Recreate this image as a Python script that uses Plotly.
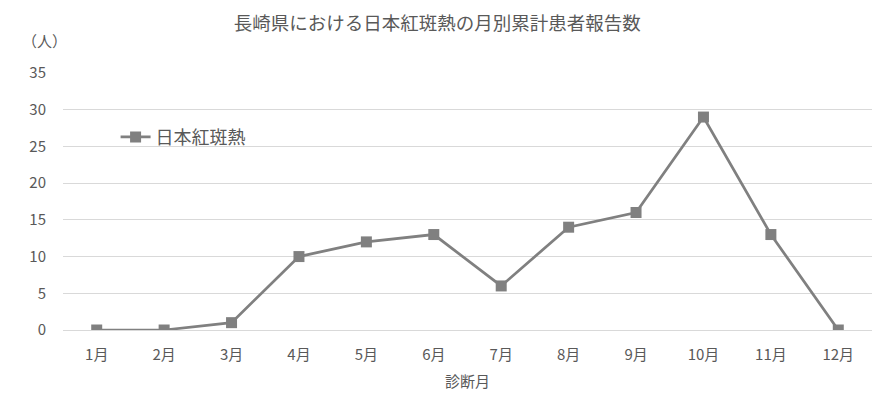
import plotly.graph_objects as go

months = ["1月", "2月", "3月", "4月", "5月", "6月", "7月", "8月", "9月", "10月", "11月", "12月"]
cases = [0, 0, 1, 10, 12, 13, 6, 14, 16, 29, 13, 0]
series_name = "日本紅斑熱"
y_ticks = [0, 5, 10, 15, 20, 25, 30, 35]

FONT = "Noto Sans CJK JP"
TXT = "#595959"

fig = go.Figure()
fig.add_trace(go.Scatter(
    x=months, y=cases, name=series_name, mode="lines+markers",
    line=dict(color="#808080", width=2.75),
    marker=dict(symbol="square", size=11, color="#808080"),
))

fig.update_layout(
    width=885, height=391,
    margin=dict(l=55, r=21, t=65, b=69, autoexpand=False),
    paper_bgcolor="white", plot_bgcolor="white",
    font=dict(family=FONT, size=15, color=TXT),
    title=dict(text="長崎県における日本紅斑熱の月別累計患者報告数", x=0.485, xanchor="center",
               y=1 - 16 / 391, yanchor="middle", font=dict(size=18.5, color=TXT, family=FONT)),
    showlegend=True,
    legend=dict(x=0.065, y=0.75, xanchor="left", yanchor="middle",
                bgcolor="rgba(0,0,0,0)", font=dict(size=18, color=TXT, family=FONT)),
    xaxis=dict(type="category", range=[-0.5, 11.5], showgrid=False, showline=True,
               linecolor="#d9d9d9", automargin=False, ticks="",
               tickfont=dict(size=15, color=TXT), ticklabelstandoff=11,
               title=dict(text="診断月", font=dict(size=15, color=TXT), standoff=13)),
    yaxis=dict(range=[0, 35], tickvals=y_ticks, showgrid=True, gridcolor="#d9d9d9",
               automargin=False, zeroline=False, ticks="", ticklen=0,
               tickfont=dict(size=15, color=TXT), ticklabelstandoff=16),
)
fig.add_annotation(text="（人）", xref="paper", yref="paper", x=-0.023, y=1.128,
                   xanchor="center", yanchor="middle", showarrow=False,
                   font=dict(size=15, color=TXT, family=FONT))
fig.write_html("out.html")
